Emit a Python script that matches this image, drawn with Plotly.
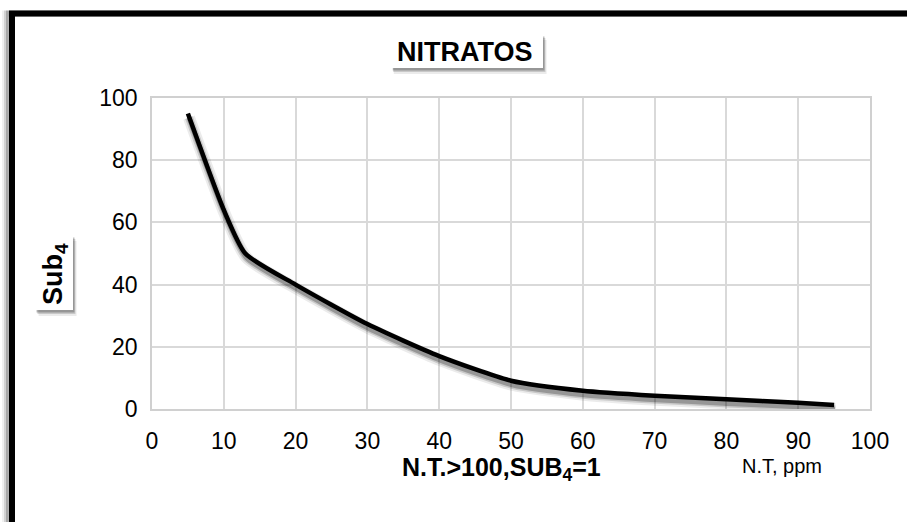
import plotly.graph_objects as go

# ---- data ----
nt_ppm = [5, 10, 13, 20, 30, 40, 50, 60, 70, 80, 90, 95]
sub4 = [95, 64, 50, 40, 27.3, 17, 9.1, 5.9, 4.3, 3.1, 2.0, 1.3]
x_ticks = [0, 10, 20, 30, 40, 50, 60, 70, 80, 90, 100]
y_ticks = [0, 20, 40, 60, 80, 100]

W, H = 907, 522
ML, MR, MT, MB = 152, 37, 98, 113
PW, PH = W - ML - MR, H - MT - MB

def px(x):
    return (x - ML) / PW

def py(y):
    return (H - MB - y) / PH

FONT = "Liberation Sans, Arial, sans-serif"

fig = go.Figure()

# shadow of curve (same data, offset)
dx, dy = 0.15, -1.3
for w, a in [(12, 0.08), (8, 0.15), (5, 0.25)]:
    fig.add_trace(go.Scatter(
        x=[v + dx for v in nt_ppm], y=[v + dy for v in sub4],
        mode="lines", line=dict(color=f"rgba(0,0,0,{a})", width=w, shape="spline", smoothing=0.6),
        hoverinfo="skip", showlegend=False))

fig.add_trace(go.Scatter(
    x=nt_ppm, y=sub4, mode="lines",
    line=dict(color="black", width=4.5, shape="spline", smoothing=0.6),
    showlegend=False))

shapes = []
# outer black frame (left and top visible) with soft shadow
for off, a in [(7, 0.06), (5, 0.12), (3, 0.2)]:
    shapes.append(dict(type="rect", xref="paper", yref="paper",
                       x0=px(12 - off), x1=px(W + 30), y0=py(H + 30), y1=py(13.5),
                       line=dict(color=f"rgba(0,0,0,{a})", width=6), layer="below"))
shapes.append(dict(type="rect", xref="paper", yref="paper",
                   x0=px(12), x1=px(W + 30), y0=py(H + 30), y1=py(13.5),
                   line=dict(color="black", width=6), layer="below"))

# title box shadow
for off, a in [(6, 0.08), (4, 0.15), (2.5, 0.25)]:
    shapes.append(dict(type="rect", xref="paper", yref="paper",
                       x0=px(392 + off * 0.3), x1=px(543 + off * 0.6), y0=py(68 + off), y1=py(34 + off),
                       line=dict(width=0), fillcolor=f"rgba(0,0,0,{a})", layer="below"))
shapes.append(dict(type="rect", xref="paper", yref="paper",
                   x0=px(392), x1=px(543), y0=py(68), y1=py(34),
                   line=dict(width=0), fillcolor="white", layer="below"))
# y title box shadow
for off, a in [(6, 0.08), (4, 0.15), (2.5, 0.25)]:
    shapes.append(dict(type="rect", xref="paper", yref="paper",
                       x0=px(35 + off * 0.6), x1=px(73 + off * 0.6), y0=py(310 + off), y1=py(235 + off),
                       line=dict(width=0), fillcolor=f"rgba(0,0,0,{a})", layer="below"))
shapes.append(dict(type="rect", xref="paper", yref="paper",
                   x0=px(35), x1=px(73), y0=py(310), y1=py(235),
                   line=dict(width=0), fillcolor="white", layer="below"))

annotations = [
    dict(text="<b>NITRATOS</b>", x=px(465), y=py(52), xref="paper", yref="paper",
         showarrow=False, font=dict(family=FONT, size=27, color="black"), xanchor="center", yanchor="middle"),
    dict(text="<b>Sub<sub>4</sub></b>", x=px(55), y=py(274), xref="paper", yref="paper", textangle=-90,
         showarrow=False, font=dict(family=FONT, size=27, color="black"), xanchor="center", yanchor="middle"),
    dict(text="<b>N.T.>100,SUB<sub>4</sub>=1</b>", x=px(501), y=py(469), xref="paper", yref="paper",
         showarrow=False, font=dict(family=FONT, size=25, color="black"), xanchor="center", yanchor="middle"),
    dict(text="N.T, ppm", x=px(782), y=py(466), xref="paper", yref="paper",
         showarrow=False, font=dict(family=FONT, size=20, color="black"), xanchor="center", yanchor="middle"),
]

fig.update_layout(
    width=W, height=H,
    margin=dict(l=ML, r=MR, t=MT, b=MB),
    paper_bgcolor="white", plot_bgcolor="white",
    font=dict(family=FONT, color="black"),
    shapes=shapes, annotations=annotations,
    xaxis=dict(range=[0, 100], tickvals=x_ticks, ticktext=[str(v) for v in x_ticks],
               showgrid=True, gridcolor="#d9d9d9", gridwidth=1.5,
               showline=True, linecolor="#d0d0d0", linewidth=1.5, mirror=True,
               zeroline=False, ticks="", ticklabelstandoff=11,
               tickfont=dict(family=FONT, size=23, color="black")),
    yaxis=dict(range=[0, 100], tickvals=y_ticks, ticktext=[str(v) for v in y_ticks],
               showgrid=True, gridcolor="#d9d9d9", gridwidth=1.5,
               showline=True, linecolor="#d0d0d0", linewidth=1.5, mirror=True,
               zeroline=False, ticks="", ticklabelstandoff=8,
               tickfont=dict(family=FONT, size=23, color="black")),
)

fig.write_html("out.html")
